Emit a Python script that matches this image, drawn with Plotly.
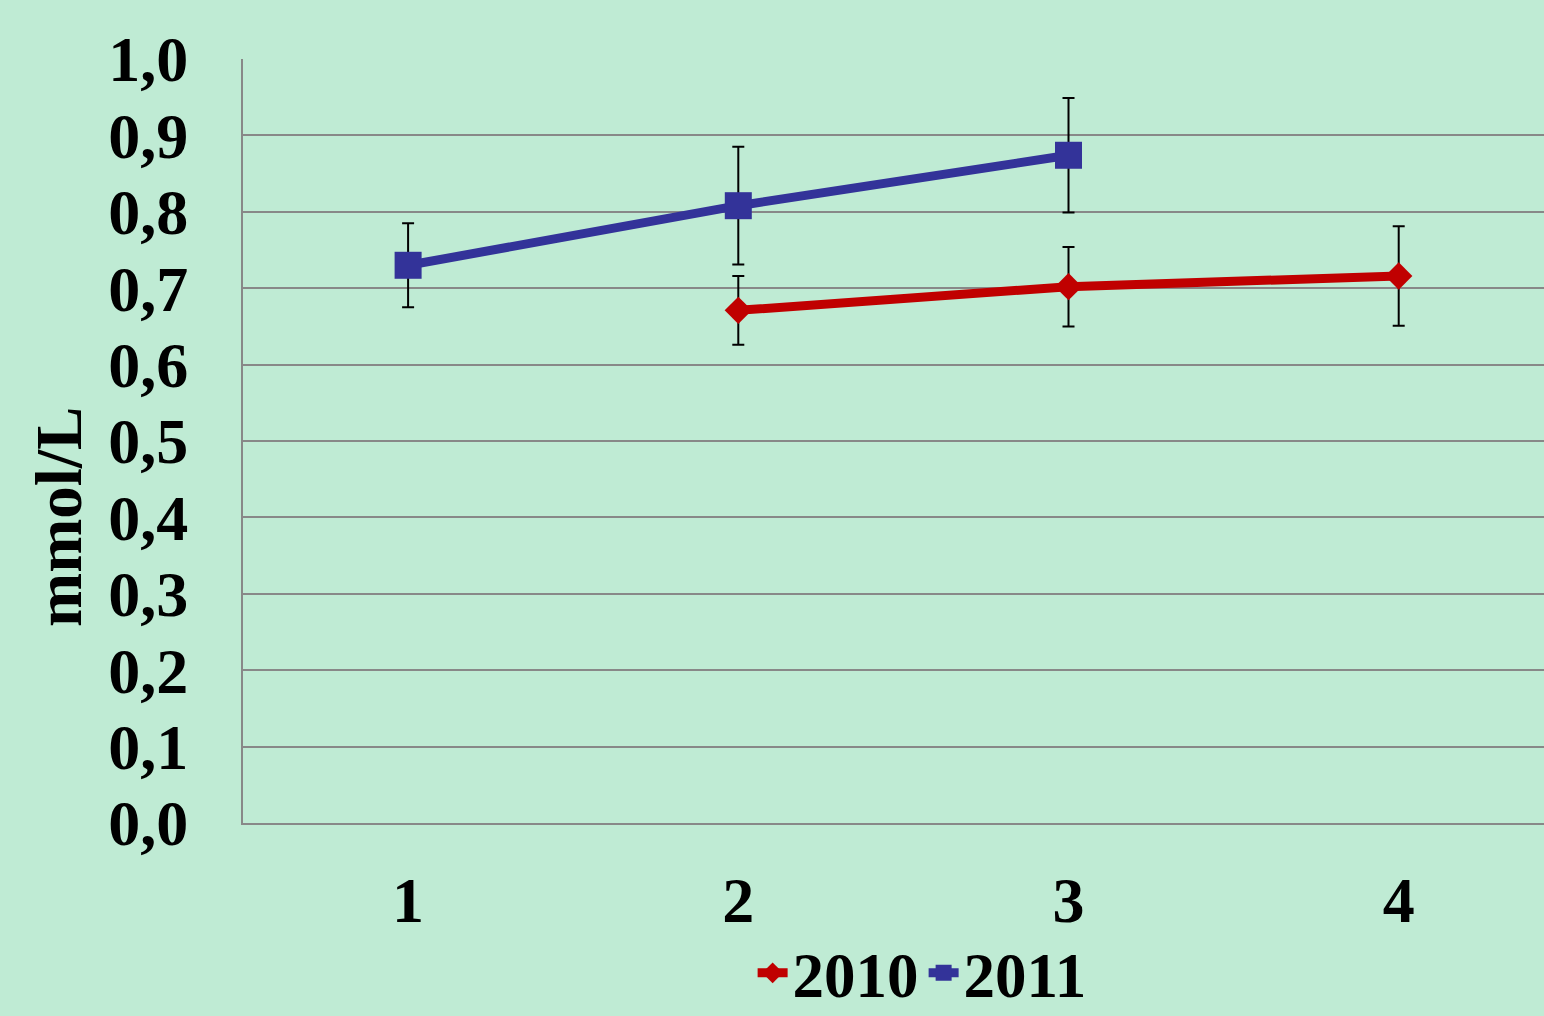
import plotly.graph_objects as go

# Measurement series (mmol/L) with standard deviations
x_2010 = [2, 3, 4]
y_2010 = [0.671, 0.702, 0.716]
err_2010 = [0.045, 0.052, 0.065]

x_2011 = [1, 2, 3]
y_2011 = [0.730, 0.808, 0.874]
err_2011 = [0.055, 0.077, 0.075]

x_ticks = [1, 2, 3, 4]
y_ticks = [0.0, 0.1, 0.2, 0.3, 0.4, 0.5, 0.6, 0.7, 0.8, 0.9, 1.0]
y_tick_labels = ["0,0", "0,1", "0,2", "0,3", "0,4", "0,5", "0,6", "0,7", "0,8", "0,9", "1,0"]

BG = "#BFEBD4"
FONT = "Liberation Serif"

fig = go.Figure()

fig.add_trace(go.Scatter(
    x=x_2010, y=y_2010, name="2010", mode="lines+markers",
    line=dict(color="#C00000", width=9),
    marker=dict(symbol="diamond", size=21, color="#C00000"),
    error_y=dict(type="data", array=err_2010, visible=True,
                 color="black", thickness=2, width=6),
))

fig.add_trace(go.Scatter(
    x=x_2011, y=y_2011, name="2011", mode="lines+markers",
    line=dict(color="#333399", width=9),
    marker=dict(symbol="square", size=27, color="#333399"),
    error_y=dict(type="data", array=err_2011, visible=True,
                 color="black", thickness=2, width=6),
))

fig.update_layout(
    width=1544, height=1016,
    margin=dict(l=243, r=0, t=59, b=193, autoexpand=False),
    paper_bgcolor=BG, plot_bgcolor=BG,
    font=dict(family=FONT, size=64, color="black"),
    showlegend=True,
    legend=dict(
        orientation="h", x=0.522, xanchor="center", y=-0.134, yanchor="top",
        font=dict(family=FONT, size=63, color="black", weight="bold"),
        bgcolor="rgba(0,0,0,0)", itemwidth=30, tracegroupgap=0,
    ),
    xaxis=dict(
        range=[0.5, 4.44], tickmode="array", tickvals=x_ticks,
        ticktext=[str(v) for v in x_ticks],
        showgrid=False, zeroline=False,
        showline=True, linecolor="#888888", linewidth=2,
        ticks="", ticklabelstandoff=20,
        tickfont=dict(family=FONT, size=64, color="black", weight="bold"),
    ),
    yaxis=dict(
        range=[0, 1.0], tickmode="array", tickvals=y_ticks, ticktext=y_tick_labels,
        showgrid=True, gridcolor="#888888", gridwidth=2,
        zeroline=False, showline=True, linecolor="#888888", linewidth=2,
        ticks="", ticklabelstandoff=40,
        tickfont=dict(family=FONT, size=64, color="black", weight="bold"),
    ),
    annotations=[dict(
        text="mmol/L", textangle=-90, xref="paper", yref="paper",
        x=-0.141, y=0.4, xanchor="center", yanchor="middle", showarrow=False,
        font=dict(family=FONT, size=65, color="black", weight="bold"),
    )],
)

fig.write_html("out.html")
